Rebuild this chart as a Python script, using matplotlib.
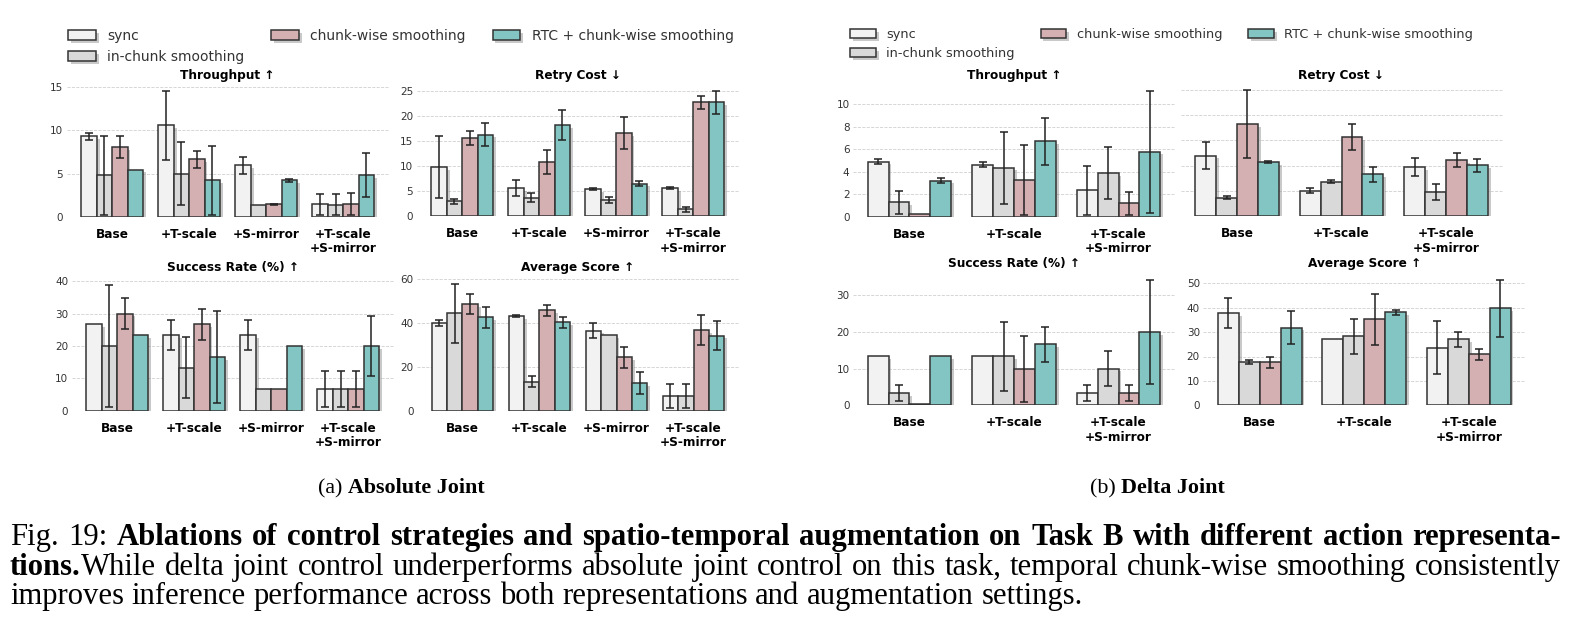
import numpy as np
import matplotlib
matplotlib.use("Agg")
import matplotlib.pyplot as plt
import matplotlib.patheffects as pe

# ---------------- data ----------------
methods = ["sync", "in-chunk smoothing", "chunk-wise smoothing", "RTC + chunk-wise smoothing"]
colors = ["#f2f2f2", "#d9d9d9", "#d4b0b2", "#82c5c3"]

groups_abs = ["Base", "+T-scale", "+S-mirror", "+T-scale\n+S-mirror"]
groups_delta = ["Base", "+T-scale", "+T-scale\n+S-mirror"]

# (a) absolute joint, rows = methods, cols = groups
abs_throughput = [[9.3, 10.6, 5.95, 1.45], [4.8, 5.0, 1.4, 1.4], [8.1, 6.65, 1.45, 1.5], [5.45, 4.2, 4.2, 4.85]]
abs_throughput_err = [[0.4, 4.0, 1.0, 1.2], [4.6, 3.7, 0, 1.2], [1.3, 0.95, 0.05, 1.3], [0, 4.0, 0.2, 2.55]]
abs_retry = [[9.8, 5.65, 5.4, 5.6], [3.0, 3.65, 3.25, 1.4], [15.6, 10.8, 16.6, 22.7], [16.25, 18.1, 6.5, 22.7]]
abs_retry_err = [[6.2, 1.55, 0.15, 0.25], [0.5, 0.9, 0.65, 0.45], [1.45, 2.3, 3.2, 1.25], [2.25, 3.0, 0.55, 2.3]]
abs_success = [[26.67, 23.33, 23.33, 6.67], [20, 13.33, 6.67, 6.67], [30, 26.67, 6.67, 6.67], [23.33, 16.67, 20, 20]]
abs_success_err = [[0, 4.7, 4.7, 5.6], [18.9, 9.5, 0, 5.6], [4.7, 4.7, 0, 5.6], [0, 14.2, 0, 9.4]]
abs_score = [[39.7, 43.0, 36.4, 6.8], [44.2, 13.2, 34.5, 6.8], [48.6, 45.6, 24.2, 36.7], [42.4, 40.2, 12.6, 34.1]]
abs_score_err = [[1.4, 0.6, 3.4, 5.5], [13.3, 2.35, 0, 5.5], [4.6, 2.6, 4.8, 6.7], [4.6, 2.5, 5.0, 6.7]]

# (b) delta joint
delta_throughput = [[4.88, 4.62, 2.34], [1.27, 4.35, 3.85], [0.2, 3.28, 1.18], [3.2, 6.7, 5.77]]
delta_throughput_err = [[0.2, 0.25, 2.15], [1.05, 3.2, 2.3], [0, 3.1, 1.0], [0.2, 2.1, 5.4]]
delta_retry = [[2.4, 1.01, 1.95], [0.73, 1.36, 0.95], [3.65, 3.13, 2.23], [2.15, 1.65, 2.01]]
delta_retry_err = [[0.52, 0.1, 0.35], [0.05, 0.07, 0.33], [1.36, 0.52, 0.27], [0.03, 0.29, 0.25]]
delta_success = [[13.33, 13.33, 3.33], [3.33, 13.33, 10], [0.3, 10, 3.33], [13.33, 16.67, 20]]
delta_success_err = [[0, 0, 2.2], [2.2, 9.45, 4.75], [0, 9, 2.2], [0, 4.75, 14.2]]
delta_score = [[37.7, 27.2, 23.6], [17.9, 28.3, 27.0], [17.6, 35.2, 20.9], [31.8, 38.1, 39.75]]
delta_score_err = [[6.15, 0, 10.9], [0.8, 7.1, 3.1], [2.3, 10.4, 2.3], [6.8, 0.9, 11.8]]

# ---------------- figure ----------------
W, H = 1574, 640
fig = plt.figure(figsize=(W / 100, H / 100), dpi=100)
plt.rcParams["font.family"] = "DejaVu Sans"

shadow = [pe.SimplePatchShadow(offset=(2, -2), shadow_rgbFace="#888888", alpha=0.45), pe.Normal()]


def place(left, zero, ref_px, ref_val, top):
    scale = (zero - ref_px) / ref_val
    return fig.add_axes([left / W, 1 - zero / H, 322 / W, top * scale / H])


def bar_panel(ax, groups, vals, errs, title, title_y, ytop, yticks, show_ylabels=True):
    x = np.arange(len(groups))
    w = 0.2
    for i in range(len(methods)):
        pos = x + (i - 1.5) * w
        bars = ax.bar(pos, vals[i], w, color=colors[i], edgecolor="#333333", linewidth=1.1,
                      label=methods[i], zorder=3)
        for b in bars:
            b.set_path_effects(shadow)
        e = np.array(errs[i], dtype=float)
        m = e > 0
        if m.any():
            ax.errorbar(pos[m], np.array(vals[i])[m], yerr=e[m], fmt="none", ecolor="#222222",
                        elinewidth=1.1, capsize=3, capthick=1.1, zorder=4)
    ax.set_ylim(0, ytop)
    ax.set_yticks(yticks)
    if not show_ylabels:
        ax.set_yticklabels([])
    ax.set_xticks(x)
    ax.set_xticklabels(groups, fontweight="bold", fontsize=8.7, linespacing=1.15)
    bb = ax.get_position()
    fig.text((bb.x0 + bb.x1) / 2, 1 - title_y / H, title, fontweight="bold", fontsize=8.7,
             ha="center", va="center")
    ax.tick_params(axis="both", length=0)
    ax.tick_params(axis="x", pad=8)
    ax.tick_params(axis="y", pad=2.5, labelsize=7.5, colors="#333333")
    ax.grid(axis="y", linestyle="--", color="#d0d0d0", linewidth=0.6, zorder=0)
    for s in ax.spines.values():
        s.set_visible(False)
    ax.set_axisbelow(True)
    return ax


# (a) Absolute Joint
ax1 = place(66.7, 216.7, 87.3, 15, 15.2)
bar_panel(ax1, groups_abs, abs_throughput, abs_throughput_err, "Throughput ↑", 75, 15.2, [0, 5, 10, 15])
ax2 = place(416.7, 216.3, 90.7, 25, 25.3)
bar_panel(ax2, groups_abs, abs_retry, abs_retry_err, "Retry Cost ↓", 75, 25.3, [0, 5, 10, 15, 20, 25])
ax3 = place(71.7, 410.7, 281.3, 40, 40.5)
bar_panel(ax3, groups_abs, abs_success, abs_success_err, "Success Rate (%) ↑", 268, 40.5, [0, 10, 20, 30, 40])
ax4 = place(417, 410.7, 278.7, 60, 60.5)
bar_panel(ax4, groups_abs, abs_score, abs_score_err, "Average Score ↑", 268, 60.5, [0, 20, 40, 60])

# (b) Delta Joint
bx1 = place(853, 216.7, 104, 10, 11.4)
bar_panel(bx1, groups_delta, delta_throughput, delta_throughput_err, "Throughput ↑", 75, 11.4, [0, 2, 4, 6, 8, 10])
bx2 = place(1180.5, 216, 90, 5, 5.1)
bar_panel(bx2, groups_delta, delta_retry, delta_retry_err, "Retry Cost ↓", 75, 5.1, [0, 1, 2, 3, 4, 5],
          show_ylabels=False)
bx3 = place(853, 405.3, 295.3, 30, 34.6)
bar_panel(bx3, groups_delta, delta_success, delta_success_err, "Success Rate (%) ↑", 263, 34.6, [0, 10, 20, 30])
bx4 = place(1203.3, 405.3, 283.3, 50, 52)
bar_panel(bx4, groups_delta, delta_score, delta_score_err, "Average Score ↑", 263, 52, [0, 10, 20, 30, 40, 50])

# legends
for ax, lx, ly, fs, cs in [(ax1, 68, 29, 10, 1.95), (bx1, 850, 28, 9.3, 2.0)]:
    h, l = ax.get_legend_handles_labels()
    leg = fig.legend(h, l, loc="upper left", bbox_to_anchor=(lx / W, 1 - ly / H), ncol=3,
                     frameon=False, fontsize=fs, borderpad=0, borderaxespad=0,
                     columnspacing=cs, handletextpad=0.8, labelspacing=0.5)
    for t in leg.get_texts():
        t.set_color("#333333")
    for p in leg.get_patches():
        p.set_path_effects(shadow)

serif = "Liberation Serif"
renderer = fig.canvas.get_renderer()

# sub captions, centred as a whole
for cx, lab, name in [(401, "(a) ", "Absolute Joint"), (1157, "(b) ", "Delta Joint")]:
    t1 = fig.text(0, 1 - 493 / H, lab, family=serif, fontsize=15.8, va="baseline")
    t2 = fig.text(0, 1 - 493 / H, name, family=serif, fontsize=15.8, fontweight="bold", va="baseline")
    w1 = t1.get_window_extent(renderer).width
    w2 = t2.get_window_extent(renderer).width
    left = cx - (w1 + w2) / 2
    t1.set_x(left / W)
    t2.set_x((left + w1) / W)

# figure caption, justified
cap_lines = [
    [("Fig. 19:", False), (" Ablations of control strategies and spatio-temporal augmentation on Task B with different action representa-", True)],
    [("tions.", True), ("While delta joint control underperforms absolute joint control on this task, temporal chunk-wise smoothing consistently", False)],
    [("improves inference performance across both representations and augmentation settings.", False)],
]
cap_y = [545, 575, 604]
cap_x0, cap_x1 = 10, 1561
cap_size = 22.1

for li, runs in enumerate(cap_lines):
    words = []
    for text, bold in runs:
        parts = text.split(" ")
        for k, p in enumerate(parts):
            if p == "":
                continue
            if k == 0 and not text.startswith(" ") and words:
                words[-1].append((p, bold))
            else:
                words.append([(p, bold)])
    arts = []
    widths = []
    for wd in words:
        row = []
        ww = 0
        for p, bold in wd:
            t = fig.text(0, 1 - cap_y[li] / H, p, family=serif, fontsize=cap_size,
                         fontweight="bold" if bold else "normal", va="baseline")
            pw = t.get_window_extent(renderer).width
            row.append((t, pw))
            ww += pw
        arts.append(row)
        widths.append(ww)
    if li < len(cap_lines) - 1:
        gap = (cap_x1 - cap_x0 - sum(widths)) / (len(words) - 1)
    else:
        sp = fig.text(0, 0, "a a", family=serif, fontsize=cap_size)
        sp2 = fig.text(0, 0, "aa", family=serif, fontsize=cap_size)
        gap = sp.get_window_extent(renderer).width - sp2.get_window_extent(renderer).width
        sp.remove()
        sp2.remove()
    x = cap_x0
    for row in arts:
        for t, pw in row:
            t.set_x(x / W)
            x += pw
        x += gap

fig.savefig("out.png", dpi=100)
